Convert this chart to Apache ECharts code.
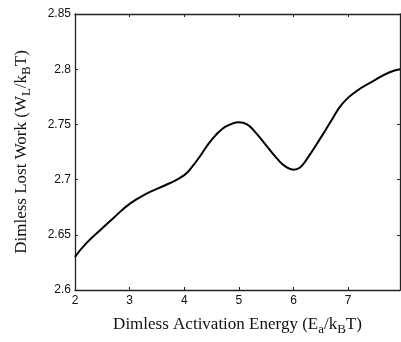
<!DOCTYPE html>
<html>
<head>
<meta charset="utf-8">
<script src="https://cdn.jsdelivr.net/npm/echarts@6/dist/echarts.min.js"></script>
<style>
  html, body { margin: 0; padding: 0; background: #fff; }
  #chart { width: 401px; height: 342px; }
</style>
</head>
<body>
<div id="chart"></div>
<script>
// activation energy (Ea/kBT) and lost work (WL/kBT)
const energy = [2, 2.2, 2.5, 2.7, 3.0, 3.3, 3.7, 4.0, 4.15, 4.3, 4.5, 4.7, 4.85, 5.0, 5.15, 5.3, 5.5, 5.7, 5.85, 6.0, 6.12, 6.25, 6.5, 6.7, 6.9, 7.15, 7.45, 7.75, 7.95];
const lostWork = [2.630, 2.642, 2.656, 2.665, 2.678, 2.687, 2.696, 2.704, 2.712, 2.722, 2.736, 2.746, 2.750, 2.752, 2.750, 2.743, 2.731, 2.719, 2.712, 2.709, 2.711, 2.719, 2.738, 2.754, 2.769, 2.780, 2.789, 2.797, 2.800];

const chart = echarts.init(document.getElementById('chart'));

const labelFont = { fontFamily: 'Liberation Sans', fontSize: 12, color: '#111' };
const titleRich = {
  t: { fontFamily: 'Liberation Serif', fontSize: 17, color: '#111' },
  s: { fontFamily: 'Liberation Serif', fontSize: 13, color: '#111', padding: [9, 0, 0, 0] }
};
const boxLine = { show: true, onZero: false, lineStyle: { color: '#222', width: 1.3 } };
const tick = { show: true, inside: true, length: 3, lineStyle: { color: '#222' } };

chart.setOption({
  animation: false,
  grid: { left: 75, top: 14, right: 1, bottom: 52, outerBoundsMode: 'none' },
  xAxis: [
    {
      type: 'value',
      min: 2,
      max: 7.95,
      interval: 1,
      name: '{t|Dimless Activation Energy (E}{s|a}{t|/k}{s|B}{t|T)}',
      nameLocation: 'middle',
      nameGap: 24,
      nameTextStyle: { rich: titleRich },
      axisLine: boxLine,
      axisTick: tick,
      axisLabel: Object.assign({ margin: 5, showMaxLabel: false }, labelFont),
      splitLine: { show: false }
    },
    {
      type: 'value',
      position: 'top',
      min: 2,
      max: 7.95,
      interval: 1,
      axisLine: boxLine,
      axisTick: tick,
      axisLabel: { show: false },
      splitLine: { show: false }
    }
  ],
  yAxis: [
    {
      type: 'value',
      min: 2.6,
      max: 2.85,
      interval: 0.05,
      name: '{t|Dimless Lost Work (W}{s|L}{t|/k}{s|B}{t|T)}',
      nameLocation: 'middle',
      nameGap: 42,
      nameTextStyle: { rich: titleRich },
      axisLine: boxLine,
      axisTick: tick,
      axisLabel: Object.assign({ margin: 4 }, labelFont),
      splitLine: { show: false }
    },
    {
      type: 'value',
      position: 'right',
      min: 2.6,
      max: 2.85,
      interval: 0.05,
      axisLine: boxLine,
      axisTick: tick,
      axisLabel: { show: false },
      splitLine: { show: false }
    }
  ],
  series: [
    {
      type: 'line',
      data: energy.map((e, i) => [e, lostWork[i]]),
      smooth: 0.5,
      showSymbol: false,
      lineStyle: { color: '#000', width: 2 }
    }
  ]
});
</script>
</body>
</html>
